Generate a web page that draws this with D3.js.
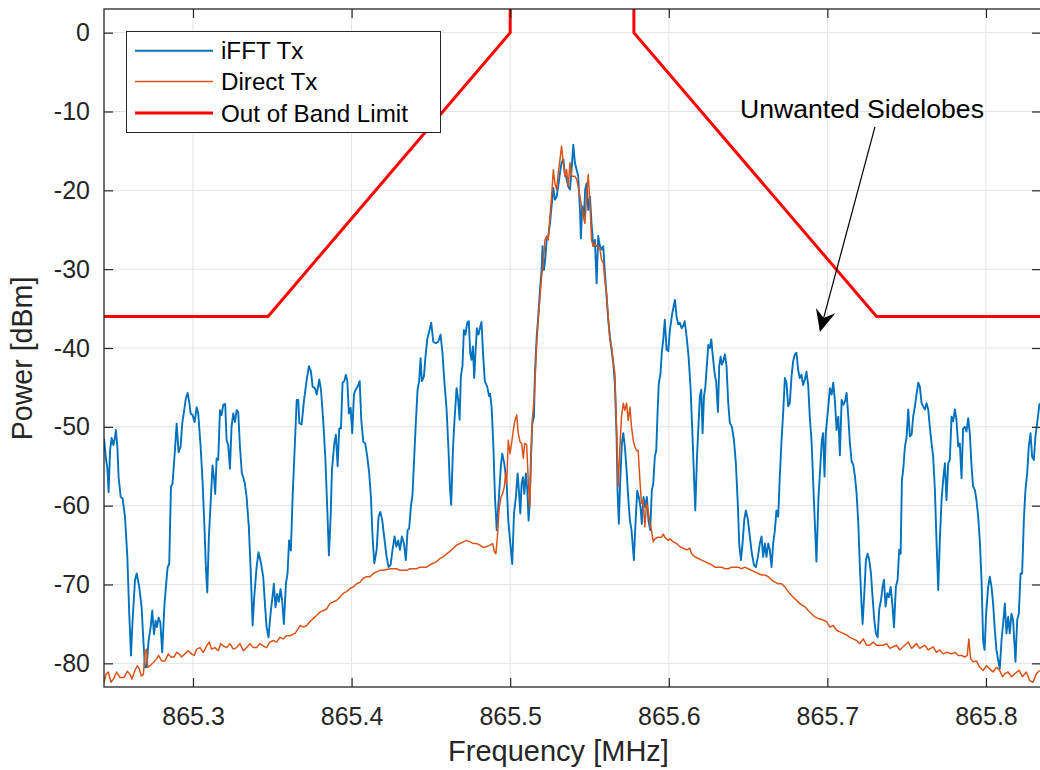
<!DOCTYPE html>
<html><head><meta charset="utf-8">
<script src="https://cdn.jsdelivr.net/npm/d3@7"></script>
<style>body{margin:0;background:#fff;} svg{display:block;font-family:"Liberation Sans",Arial,Helvetica,sans-serif;}</style>
</head><body><svg id="c" width="1040" height="770"></svg>
<script>
const xTicks = [865.3, 865.4, 865.5, 865.6, 865.7, 865.8];
const yTicks = [-80, -70, -60, -50, -40, -30, -20, -10, 0];
const xDomain = [865.24388, 865.8347];
const yDomain = [-83, 3];
const seriesNames = ["iFFT Tx", "Direct Tx", "Out of Band Limit"];
const seriesColors = ["#0072BD", "#D95319", "#FF0000"];
const xLabel = "Frequency [MHz]";
const yLabel = "Power [dBm]";
const annotationText = "Unwanted Sidelobes";
const annotationTextPos = [865.6449, -10.86];
const annotationArrow = [[865.7300, -11.96], [865.6953, -37.96]];

// [frequency MHz, power dBm]
const ifftTx = [
[865.2439,-51.5],[865.2451,-54],[865.2460,-55.3],[865.2468,-58.3],[865.2477,-53],[865.2487,-51.4],[865.2498,-52.3],[865.2508,-51.3],[865.2514,-50.4],[865.2523,-52.5],[865.2531,-56.4],[865.2544,-58.9],[865.2556,-59.1],[865.2571,-61.4],[865.2586,-66.5],[865.2598,-73.7],[865.2609,-79],[865.2619,-74.6],[865.2634,-69.5],[865.2645,-68.6],[865.2661,-70.3],[865.2676,-72.9],[865.2687,-77.1],[865.2697,-80.5],[865.2708,-80.5],[865.2720,-77.1],[865.2733,-75.4],[865.2743,-73.3],[865.2754,-76.3],[865.2764,-74.6],[865.2773,-75.4],[865.2783,-74.2],[865.2794,-74.8],[865.2806,-78.6],[865.2819,-72.9],[865.2829,-70.3],[865.2840,-67.8],[865.2850,-67.4],[865.2861,-57.6],[865.2871,-57.2],[865.2886,-53],[865.2897,-49.6],[865.2909,-53.2],[865.2922,-52.5],[865.2932,-49.6],[865.2943,-48.1],[865.2955,-46.4],[865.2966,-45.7],[865.2976,-46.8],[865.2985,-48.3],[865.2997,-48.5],[865.3010,-49.4],[865.3023,-47.5],[865.3033,-48.3],[865.3048,-52.5],[865.3060,-56.8],[865.3073,-63.1],[865.3081,-67.8],[865.3090,-71],[865.3100,-64],[865.3113,-58.9],[865.3123,-54.9],[865.3134,-56.8],[865.3140,-58.5],[865.3149,-54],[865.3159,-54.2],[865.3170,-47.9],[865.3180,-48.5],[865.3191,-47.2],[865.3203,-47.1],[865.3212,-51.7],[865.3222,-52.3],[865.3233,-55.3],[865.3243,-50],[865.3254,-48.3],[865.3264,-49.4],[865.3275,-47.9],[865.3285,-48.1],[865.3296,-52.5],[865.3308,-55.9],[865.3317,-56.4],[865.3327,-57.2],[865.3338,-58.9],[865.3352,-62.7],[865.3363,-67.8],[865.3376,-75.2],[865.3386,-71.6],[865.3401,-67.8],[865.3413,-65.9],[865.3428,-67.2],[865.3443,-69.1],[865.3455,-72.9],[865.3464,-75.4],[865.3476,-76.7],[865.3489,-73.7],[865.3501,-71.6],[865.3510,-69.9],[865.3520,-72.9],[865.3531,-71.2],[865.3541,-72.2],[865.3552,-70.6],[865.3562,-72],[865.3573,-75],[865.3586,-69.9],[865.3596,-68.6],[865.3606,-64.4],[865.3617,-65.7],[865.3628,-58.9],[865.3638,-54.2],
[865.3654,-46.6],[865.3664,-46.6],[865.3670,-49.5],[865.3685,-49.7],[865.3700,-46.6],[865.3717,-44],[865.3731,-42.3],[865.3744,-43],[865.3754,-44.9],[865.3769,-45.1],[865.3780,-45.9],[865.3796,-44],[865.3807,-45.3],[865.3822,-49.5],[865.3834,-53.8],[865.3847,-60.6],[865.3857,-66.3],[865.3868,-61.4],[865.3876,-55.5],[865.3891,-52.1],[865.3901,-51],[865.3912,-55],[865.3922,-50.2],[865.3933,-50.2],[865.3943,-44.4],[865.3954,-44.2],[865.3964,-43.4],[865.3973,-44.2],[865.3983,-48.3],[865.3994,-47.6],[865.4004,-50.8],[865.4015,-45.9],[865.4025,-45.3],[865.4038,-44.9],[865.4051,-44.2],[865.4061,-49.1],[865.4074,-51.9],[865.4086,-52.1],[865.4099,-53.8],[865.4111,-55.9],[865.4122,-58.9],[865.4132,-63.9],[865.4143,-67.3],[865.4158,-65.6],[865.4170,-61.4],[865.4181,-60.8],[865.4193,-61.8],[865.4208,-64.4],[865.4221,-66.5],[865.4233,-67.8],[865.4246,-67.5],[865.4258,-65.6],[865.4271,-63.9],[865.4282,-65.2],[865.4294,-64.4],[865.4305,-65.6],[865.4317,-63.9],[865.4330,-64.8],[865.4342,-66.9],[865.4353,-63.1],[865.4363,-62.9],[865.4374,-60.1],[865.4384,-58.6],[865.4395,-53.8],[865.4405,-49.5],[865.4416,-45.3],[865.4426,-44.2],[865.4435,-41.3],[865.4443,-44.2],[865.4456,-43.6],[865.4466,-41.1],[865.4477,-38.9],[865.4489,-37.9],[865.4502,-36.8],[865.4515,-39.2],[865.4531,-39.4],[865.4546,-39.2],[865.4561,-38.3],[865.4573,-40.6],[865.4584,-44],[865.4599,-47.8],[865.4611,-52.9],[865.4620,-57.6],[865.4628,-59.9],[865.4639,-52.9],[865.4649,-49.1],[865.4662,-45.1],[865.4672,-46.6],[865.4681,-49.1],[865.4689,-43.6],[865.4699,-42.3],[865.4708,-37.7],[865.4718,-38.3],[865.4729,-36.8],[865.4739,-36.6],[865.4748,-40.6],[865.4756,-41.5],[865.4765,-39.8],[865.4773,-43.8],[865.4781,-40.6],[865.4790,-37.5],[865.4800,-38.3],[865.4809,-37.5],[865.4819,-36.7],[865.4830,-41.1],[865.4840,-44.2],[865.4855,-44.9],[865.4867,-46.1],
[865.4873,-45.8],[865.4883,-47.5],[865.4894,-52.5],[865.4904,-58.9],[865.4915,-63.1],[865.4929,-58.9],[865.4942,-54.7],[865.4950,-53.4],[865.4963,-54.7],[865.4978,-57.2],[865.4988,-61.9],[865.5003,-65.3],[865.5013,-67.4],[865.5024,-61],[865.5036,-58.9],[865.5047,-55.9],[865.5055,-58.1],[865.5064,-61],[865.5072,-57.2],[865.5081,-56.4],[865.5089,-58.5],[865.5099,-55.9],[865.5108,-58.1],[865.5116,-61.9],[865.5123,-59.7],[865.5131,-53.8],[865.5139,-49.6],[865.5150,-48.7],[865.5156,-43.2],[865.5167,-38.6],[865.5177,-36],[865.5188,-32.6],[865.5198,-30.1],[865.5204,-27.1],[865.5213,-30.1],[865.5221,-28.8],[865.5230,-26.3],[865.5240,-25.8],[865.5251,-24.2],[865.5261,-22],[865.5272,-19.7],[865.5282,-21.2],[865.5293,-20.8],[865.5303,-19.5],[865.5314,-17.8],[865.5324,-16.5],[865.5335,-16.1],[865.5345,-17.8],[865.5356,-18.6],[865.5366,-19.5],[865.5377,-19.9],[865.5387,-17.4],[865.5398,-14.2],[865.5408,-16.5],[865.5419,-17.4],[865.5429,-18.2],[865.5440,-22.5],[865.5446,-26.1],[865.5454,-22],[865.5465,-23.3],[865.5473,-19.9],[865.5482,-19.1],[865.5492,-22.5],[865.5503,-20.8],[865.5513,-24.2],[865.5524,-27.1],[865.5534,-26.3],[865.5545,-31.8],[865.5555,-25.8],[865.5566,-27.1],[865.5576,-27.5],[865.5587,-27.1],[865.5597,-30.5],[865.5608,-33.5],[865.5618,-36.4],[865.5629,-38.6],[865.5639,-40.2],[865.5650,-41.9],[865.5660,-44.5],[865.5671,-51.3],[865.5677,-58.1],[865.5685,-62.3],[865.5694,-56.8],[865.5704,-52.1],[865.5713,-50.8],[865.5723,-52.5],[865.5734,-55.5],[865.5744,-58.9],[865.5755,-61.9],[865.5765,-63.1],[865.5780,-66.9],[865.5790,-62.3],[865.5801,-58.1],[865.5811,-58.9],[865.5822,-60.2],[865.5830,-62.3],[865.5841,-58.9],[865.5851,-60.2],[865.5862,-58.9],[865.5872,-61.9],[865.5883,-63.1],[865.5893,-58.1],[865.5902,-57.2],[865.5912,-53.8],[865.5921,-53],[865.5929,-48.3],[865.5937,-44.5],[865.5948,-43.2],[865.5956,-40.5],[865.5965,-39],[865.5975,-36.4],[865.5986,-40.2],
[865.5997,-40.4],[865.6007,-37.7],[865.6022,-35.6],[865.6039,-33.9],[865.6049,-36],[865.6060,-37],[865.6070,-36.8],[865.6081,-37.5],[865.6091,-37.2],[865.6100,-36.6],[865.6112,-38.5],[865.6125,-41.1],[865.6138,-45.3],[865.6148,-50.4],[865.6159,-56.3],[865.6167,-60.6],[865.6178,-53.8],[865.6188,-49.5],[865.6196,-46.1],[865.6205,-45.3],[865.6213,-50.8],[865.6222,-46.1],[865.6230,-45.1],[865.6238,-42.8],[865.6249,-39.6],[865.6259,-40],[865.6268,-38.9],[865.6278,-41.1],[865.6289,-43.2],[865.6299,-44.4],[865.6310,-48.1],[865.6318,-42.3],[865.6327,-41.1],[865.6335,-42.1],[865.6343,-41.7],[865.6354,-40.8],[865.6364,-42.3],[865.6375,-47],[865.6385,-49.5],[865.6398,-50],[865.6411,-51.7],[865.6423,-54.6],[865.6436,-60.1],[865.6444,-64.8],[865.6455,-66.9],[865.6465,-64.8],[865.6476,-61.8],[865.6486,-60.6],[865.6499,-61.8],[865.6511,-63.9],[865.6524,-66.1],[865.6537,-67.5],[865.6549,-67.8],[865.6562,-66.5],[865.6574,-64.8],[865.6585,-63.9],[865.6595,-66.5],[865.6606,-64.8],[865.6616,-66.5],[865.6627,-64.8],[865.6637,-65.6],[865.6648,-67.8],[865.6658,-64.8],[865.6669,-63.1],[865.6679,-60.6],[865.6690,-61.4],[865.6700,-56.3],[865.6711,-51.7],[865.6721,-48.3],[865.6732,-43.8],[865.6742,-44.4],[865.6753,-47.4],[865.6763,-47],[865.6774,-43.6],[865.6784,-41.7],[865.6795,-40.8],[865.6805,-40.6],[865.6816,-42.8],[865.6826,-43.8],[865.6837,-43.4],[865.6847,-44.7],[865.6858,-44],[865.6868,-43],[865.6879,-44.7],[865.6889,-48.7],[865.6900,-51.7],[865.6910,-56.7],[865.6921,-62.2],[865.6931,-67.1],[865.6944,-58.9],[865.6954,-55.5],[865.6965,-51.7],[865.6973,-50.8],[865.6982,-56.3],[865.6990,-50.8],
[865.7006,-47.4],[865.7016,-45.1],[865.7027,-45.9],[865.7037,-44.4],[865.7048,-46.8],[865.7058,-50.4],[865.7069,-48.7],[865.7079,-53.6],[865.7090,-46.6],[865.7100,-47.2],[865.7111,-46.8],[865.7121,-45.7],[865.7132,-48.7],[865.7142,-52.1],[865.7153,-54.4],[865.7163,-54.8],[865.7174,-56.3],[865.7184,-58.4],[865.7195,-62.2],[865.7205,-67.8],[865.7216,-72.8],[865.7222,-75],[865.7233,-71.1],[865.7243,-66.9],[865.7254,-66.1],[865.7264,-66.9],[865.7275,-68.6],[865.7285,-71.6],[865.7296,-74.5],[865.7306,-76.2],[865.7317,-76.7],[865.7327,-73.1],[865.7338,-72],[865.7348,-70.3],[865.7357,-69.4],[865.7367,-72.8],[865.7378,-71.1],[865.7388,-71.6],[865.7399,-70.3],[865.7411,-72.8],[865.7420,-75.4],[865.7432,-70.3],[865.7443,-69.4],[865.7453,-65.6],[865.7462,-66.1],[865.7470,-56.7],[865.7478,-55.5],[865.7489,-52.5],[865.7499,-51.4],[865.7510,-47.8],[865.7520,-51.2],[865.7531,-51],[865.7541,-48.7],[865.7552,-47.4],[865.7562,-45.9],[865.7573,-44.4],[865.7583,-44.9],[865.7594,-47],[865.7604,-47.4],[865.7615,-47.8],[865.7625,-47],[865.7636,-47.8],[865.7646,-50],[865.7657,-52.1],[865.7667,-53.8],[865.7678,-58],[865.7688,-64.4],[865.7699,-70.7],[865.7709,-64.4],[865.7720,-59.3],[865.7730,-56.7],[865.7741,-54.6],[865.7751,-59.3],[865.7762,-54.6],[865.7772,-54.2],[865.7783,-48.7],[865.7793,-49.3],[865.7804,-47.8],[865.7814,-49.1],[865.7825,-52.5],[865.7835,-52.1],[865.7846,-56.5],[865.7856,-50.2],[865.7867,-50],[865.7877,-50.6],[865.7888,-48.9],[865.7898,-50.8],[865.7909,-55],[865.7919,-57.6],[865.7930,-58],[865.7940,-59.3],[865.7951,-61.4],[865.7961,-64.4],[865.7972,-69.4],[865.7982,-77.1],[865.7991,-78.3],[865.8001,-73.7],[865.8014,-70.3],[865.8024,-69],[865.8035,-70.3],[865.8045,-72.4],[865.8056,-75.8],[865.8066,-78.3],[865.8077,-79.6],[865.8087,-80.7],[865.8098,-77.1],[865.8108,-75],[865.8119,-72.4],[865.8129,-76.2],[865.8140,-74.1],[865.8150,-76.2],[865.8161,-73.7],[865.8171,-74.5],[865.8186,-79.8],[865.8197,-74.5],[865.8207,-73.7],[865.8218,-68.6],[865.8228,-68.6],[865.8239,-61.8],[865.8249,-58],[865.8260,-55.9],[865.8270,-52.5],[865.8281,-50.8],[865.8291,-53.8],[865.8302,-54.2],[865.8312,-51.2],[865.8323,-49.5],[865.8333,-47.8],[865.8339,-47]
];

const directTx = [
[865.2439,-82.4],[865.2451,-81.4],[865.2466,-81.1],[865.2483,-82.4],[865.2498,-82],[865.2519,-81.1],[865.2540,-81.8],[865.2565,-81.8],[865.2586,-81],[865.2603,-81.4],[865.2615,-82],[865.2634,-80.9],[865.2649,-80.3],[865.2661,-80.7],[865.2674,-81.6],[865.2687,-81.4],[865.2699,-78.4],[865.2708,-78.2],[865.2714,-80.5],[865.2729,-80.3],[865.2750,-79.9],[865.2771,-79.4],[865.2783,-79],[865.2802,-79.7],[865.2823,-79.7],[865.2844,-78.8],[865.2861,-79.2],[865.2880,-79.2],[865.2897,-78.6],[865.2913,-78.8],[865.2928,-79.2],[865.2949,-78.8],[865.2970,-78.4],[865.2991,-78.8],[865.3008,-79],[865.3023,-78.2],[865.3044,-78],[865.3065,-78.6],[865.3086,-77.8],[865.3102,-77.3],[865.3117,-78.2],[865.3138,-78],[865.3159,-78.4],[865.3174,-77.5],[865.3191,-77.8],[865.3212,-78],[865.3233,-77.5],[865.3254,-78.2],[865.3275,-78],[865.3296,-77.5],[865.3317,-78.4],[865.3338,-78],[865.3359,-77.5],[865.3380,-78],[865.3401,-78],[865.3422,-77.5],[865.3443,-77.8],[865.3464,-78],[865.3485,-77.3],[865.3506,-77.1],[865.3527,-77.3],[865.3548,-76.7],[865.3569,-76.9],[865.3590,-76.5],[865.3611,-76.5],[865.3632,-76.3],
[865.3643,-76.2],[865.3664,-75.6],[865.3675,-75.2],[865.3696,-75.4],[865.3717,-75.2],[865.3738,-74.7],[865.3759,-74.3],[865.3780,-73.9],[865.3801,-73.5],[865.3822,-73.3],[865.3843,-73.1],[865.3864,-72.4],[865.3885,-72.2],[865.3906,-72],[865.3927,-71.6],[865.3948,-71.1],[865.3969,-70.9],[865.3990,-70.5],[865.4011,-70.3],[865.4032,-69.9],[865.4053,-69.7],[865.4074,-69.2],[865.4095,-69],[865.4116,-69],[865.4137,-68.6],[865.4158,-68.4],[865.4179,-68.2],[865.4200,-68.2],[865.4221,-68.1],[865.4242,-68],[865.4263,-68],[865.4284,-68],[865.4305,-68.2],[865.4326,-68.2],[865.4347,-68.2],[865.4368,-68],[865.4389,-68],[865.4410,-68],[865.4431,-67.8],[865.4452,-67.8],[865.4473,-67.8],[865.4494,-67.5],[865.4515,-67.3],[865.4536,-67.1],[865.4557,-66.7],[865.4578,-66.5],[865.4599,-66.1],[865.4620,-65.8],[865.4641,-65.4],[865.4662,-65],[865.4683,-64.8],[865.4704,-64.6],[865.4725,-64.4],[865.4746,-64.6],[865.4767,-64.8],[865.4788,-64.8],[865.4809,-65],[865.4830,-65.3],[865.4851,-65.2],
[865.4873,-65],[865.4889,-64.8],[865.4902,-65.9],[865.4910,-66.1],[865.4919,-64],[865.4931,-60.2],[865.4942,-58.9],[865.4952,-58.5],[865.4963,-57.6],[865.4971,-55.9],[865.4978,-57.2],[865.4988,-51.7],[865.4999,-53.4],[865.5009,-52.1],[865.5020,-50.4],[865.5030,-49.2],[865.5041,-48.5],[865.5051,-50.8],[865.5062,-51.9],[865.5072,-52.1],[865.5083,-54],[865.5091,-52.1],[865.5104,-52.3],[865.5114,-56.8],[865.5123,-60.2],[865.5131,-54.7],[865.5139,-49.2],[865.5150,-46.6],[865.5158,-43.6],[865.5167,-39.4],[865.5177,-36.4],[865.5188,-33.5],[865.5198,-30.9],[865.5209,-29.2],[865.5219,-26.3],[865.5230,-25.8],[865.5240,-26.3],[865.5251,-23.3],[865.5261,-20.8],[865.5272,-17.4],[865.5282,-19.1],[865.5293,-19.9],[865.5303,-17.8],[865.5314,-16.1],[865.5324,-14.4],[865.5335,-16.5],[865.5345,-18.2],[865.5356,-17.4],[865.5366,-19.5],[865.5377,-16.5],[865.5387,-18.2],[865.5398,-18.2],[865.5408,-18.2],[865.5419,-18.6],[865.5429,-19.5],[865.5440,-20.8],[865.5450,-22],[865.5461,-23.3],[865.5471,-24.2],[865.5482,-20.8],[865.5492,-18],[865.5503,-21.6],[865.5513,-26.3],[865.5524,-27.1],[865.5534,-26.7],[865.5545,-27.1],[865.5555,-27.1],[865.5566,-27.5],[865.5576,-28.8],[865.5587,-29.2],[865.5597,-31.4],[865.5608,-33.1],[865.5618,-36],[865.5629,-39],[865.5639,-39.8],[865.5650,-41.9],[865.5660,-43.2],[865.5671,-50.4],[865.5681,-57.6],[865.5692,-52.5],[865.5702,-48.7],[865.5713,-47],[865.5723,-47.9],[865.5734,-47],[865.5744,-49.2],[865.5755,-47.5],[865.5765,-50],[865.5776,-51.7],[865.5786,-52.5],[865.5797,-53],[865.5807,-53],[865.5818,-56.8],[865.5828,-59.7],[865.5839,-59.3],[865.5849,-62.7],[865.5860,-59.7],[865.5870,-60.6],[865.5881,-62.3],[865.5891,-63.1],[865.5902,-64.6],[865.5912,-64.2],[865.5933,-64],[865.5954,-64],[865.5965,-63.6],[865.5975,-64],[865.5996,-64.4],
[865.6007,-64.2],[865.6028,-64.6],[865.6049,-64.8],[865.6070,-65.2],[865.6091,-65.4],[865.6112,-65.6],[865.6133,-65.4],[865.6144,-66.1],[865.6165,-66.5],[865.6186,-66.7],[865.6207,-66.9],[865.6228,-67.1],[865.6249,-67.3],[865.6270,-67.5],[865.6291,-67.8],[865.6312,-67.8],[865.6333,-67.8],[865.6354,-68],[865.6375,-68],[865.6396,-67.8],[865.6417,-67.8],[865.6438,-67.8],[865.6459,-68],[865.6480,-67.8],[865.6501,-68],[865.6522,-68.2],[865.6543,-68.4],[865.6564,-68.6],[865.6585,-68.8],[865.6606,-68.8],[865.6627,-69],[865.6648,-69.4],[865.6669,-69.7],[865.6690,-69.9],[865.6711,-69.9],[865.6732,-70.3],[865.6753,-70.9],[865.6774,-71.4],[865.6795,-71.8],[865.6816,-72.2],[865.6837,-72.6],[865.6858,-72.8],[865.6879,-73.3],[865.6900,-73.7],[865.6921,-74.1],[865.6942,-74.3],
[865.6974,-74.5],[865.6995,-74.7],[865.7016,-75.4],[865.7037,-75.2],[865.7058,-75.8],[865.7079,-76],[865.7100,-76.2],[865.7121,-76.4],[865.7142,-76.7],[865.7163,-76.9],[865.7184,-77.1],[865.7205,-77.5],[865.7226,-76.9],[865.7247,-77.7],[865.7268,-77.7],[865.7289,-77.3],[865.7310,-77.7],[865.7331,-77.7],[865.7352,-77.7],[865.7373,-77.5],[865.7394,-78.1],[865.7415,-77.9],[865.7436,-77.7],[865.7457,-78.3],[865.7478,-77.9],[865.7510,-77.3],[865.7531,-78.1],[865.7562,-77.5],[865.7583,-78.1],[865.7615,-77.7],[865.7636,-78.3],[865.7667,-77.9],[865.7688,-78.6],[865.7709,-78.3],[865.7730,-78.8],[865.7751,-78.6],[865.7783,-78.8],[865.7804,-78.6],[865.7825,-79],[865.7846,-79],[865.7867,-79.2],[865.7882,-79],[865.7892,-76.9],[865.7903,-79.4],[865.7919,-79.8],[865.7940,-79.7],[865.7961,-80.5],[865.7982,-80.9],[865.8003,-80.3],[865.8024,-80.7],[865.8045,-81.1],[865.8066,-80.5],[865.8087,-80.9],[865.8104,-81.7],[865.8119,-81.3],[865.8140,-81.1],[865.8161,-81.7],[865.8182,-81.3],[865.8209,-80.9],[865.8230,-81.7],[865.8255,-81.1],[865.8276,-82.2],[865.8297,-82.4],[865.8318,-81.3],[865.8339,-80.9]
];

const limitFreq = [865.2439, 865.3473, 865.5, 865.5, 865.578, 865.578, 865.7310, 865.8347];
const limitPower = [-36, -36, 0, 30, 30, 0, -36, -36];

// ---------- layout ----------
const svg = d3.select("#c");
const L = 104, R = 1041, T = 9, B = 687;
const x = d3.scaleLinear().domain(xDomain).range([L, R]);
const y = d3.scaleLinear().domain(yDomain).range([B, T]);
const axisColor = "#262626";

svg.append("rect").attr("width", 1040).attr("height", 770).attr("fill", "#fff");
svg.append("defs").append("clipPath").attr("id", "clip")
  .append("rect").attr("x", L).attr("y", T).attr("width", R - L).attr("height", B - T);

// grid
const grid = svg.append("g");
grid.selectAll("line.gx").data(xTicks).join("line")
  .attr("x1", d => x(d)).attr("x2", d => x(d)).attr("y1", T).attr("y2", B)
  .attr("stroke", "#e3e3e3").attr("stroke-width", 1);
grid.selectAll("line.gy").data(yTicks).join("line")
  .attr("y1", d => y(d)).attr("y2", d => y(d)).attr("x1", L).attr("x2", R)
  .attr("stroke", "#e3e3e3").attr("stroke-width", 1);

// series
const plot = svg.append("g").attr("clip-path", "url(#clip)");
const line = d3.line().x(d => x(d[0])).y(d => y(d[1]));
plot.append("path").datum(ifftTx).attr("d", line)
  .attr("fill", "none").attr("stroke", seriesColors[0]).attr("stroke-width", 1.9).attr("stroke-linejoin", "round");
plot.append("path").datum(directTx).attr("d", line)
  .attr("fill", "none").attr("stroke", seriesColors[1]).attr("stroke-width", 1.5).attr("stroke-linejoin", "round");
const limitData = limitFreq.map((f, i) => [f, limitPower[i]]);
plot.append("path").datum(limitData).attr("d", line)
  .attr("fill", "none").attr("stroke", seriesColors[2]).attr("stroke-width", 3);

// axes
const fmt = d => String(d);
const tickLen = 9;
function styleAxis(g) {
  g.select(".domain").remove();
  g.selectAll(".tick line").attr("stroke", axisColor).attr("stroke-width", 1.2);
  g.selectAll(".tick text").attr("fill", axisColor).attr("font-size", 25)
    .attr("font-family", '"Liberation Sans", Arial, sans-serif');
}
svg.append("g").attr("transform", `translate(0,${B})`)
  .call(d3.axisBottom(x).tickValues(xTicks).tickFormat(fmt).tickSizeInner(-tickLen).tickSizeOuter(0).tickPadding(20))
  .call(styleAxis);
svg.append("g").attr("transform", `translate(0,${T})`)
  .call(d3.axisTop(x).tickValues(xTicks).tickFormat("").tickSizeInner(-tickLen).tickSizeOuter(0))
  .call(styleAxis);
svg.append("g").attr("transform", `translate(${L},0)`)
  .call(d3.axisLeft(y).tickValues(yTicks).tickFormat(fmt).tickSizeInner(-tickLen).tickSizeOuter(0).tickPadding(14))
  .call(styleAxis);
svg.append("g").attr("transform", `translate(${R},0)`)
  .call(d3.axisRight(y).tickValues(yTicks).tickFormat("").tickSizeInner(-tickLen).tickSizeOuter(0))
  .call(styleAxis);
svg.append("rect").attr("x", L).attr("y", T).attr("width", R - L).attr("height", B - T)
  .attr("fill", "none").attr("stroke", axisColor).attr("stroke-width", 1.3);

// axis labels
svg.append("text").attr("x", 558.5).attr("y", 761).attr("text-anchor", "middle")
  .attr("font-size", 29).attr("fill", axisColor).text(xLabel);
svg.append("text").attr("transform", "translate(32,358.5) rotate(-90)").attr("text-anchor", "middle")
  .attr("font-size", 28.6).attr("fill", axisColor).text(yLabel);

// legend
const lg = svg.append("g");
lg.append("rect").attr("x", 126.5).attr("y", 31.5).attr("width", 314).attr("height", 101)
  .attr("fill", "#fff").attr("stroke", axisColor).attr("stroke-width", 1);
const legW = [1.9, 1.5, 3];
const legY = [50.7, 81.5, 113];
seriesNames.forEach((name, i) => {
  lg.append("line").attr("x1", 135).attr("x2", 213).attr("y1", legY[i]).attr("y2", legY[i])
    .attr("stroke", seriesColors[i]).attr("stroke-width", legW[i]);
  lg.append("text").attr("x", 221).attr("y", legY[i]).attr("dy", "0.36em")
    .attr("font-size", 24.2).attr("fill", "#000").text(name);
});

// annotation
svg.append("text").attr("x", x(annotationTextPos[0])).attr("y", y(annotationTextPos[1]))
  .attr("font-size", 26.6).attr("fill", "#000").text(annotationText);
const p0 = [x(annotationArrow[0][0]), y(annotationArrow[0][1])];
const p1 = [x(annotationArrow[1][0]), y(annotationArrow[1][1])];
const dx = p1[0] - p0[0], dy = p1[1] - p0[1], len = Math.hypot(dx, dy);
const ux = dx / len, uy = dy / len, nx = -uy, ny = ux;
const hl = 22, hw = 10;
svg.append("line").attr("x1", p0[0]).attr("y1", p0[1])
  .attr("x2", p1[0] - ux * hl * 0.6).attr("y2", p1[1] - uy * hl * 0.6)
  .attr("stroke", "#000").attr("stroke-width", 1.2);
const head = [
  [p1[0], p1[1]],
  [p1[0] - ux * hl + nx * hw, p1[1] - uy * hl + ny * hw],
  [p1[0] - ux * hl * 0.65, p1[1] - uy * hl * 0.65],
  [p1[0] - ux * hl - nx * hw, p1[1] - uy * hl - ny * hw]
];
svg.append("path").attr("d", "M" + head.map(p => p.join(",")).join("L") + "Z").attr("fill", "#000");
</script></body></html>
